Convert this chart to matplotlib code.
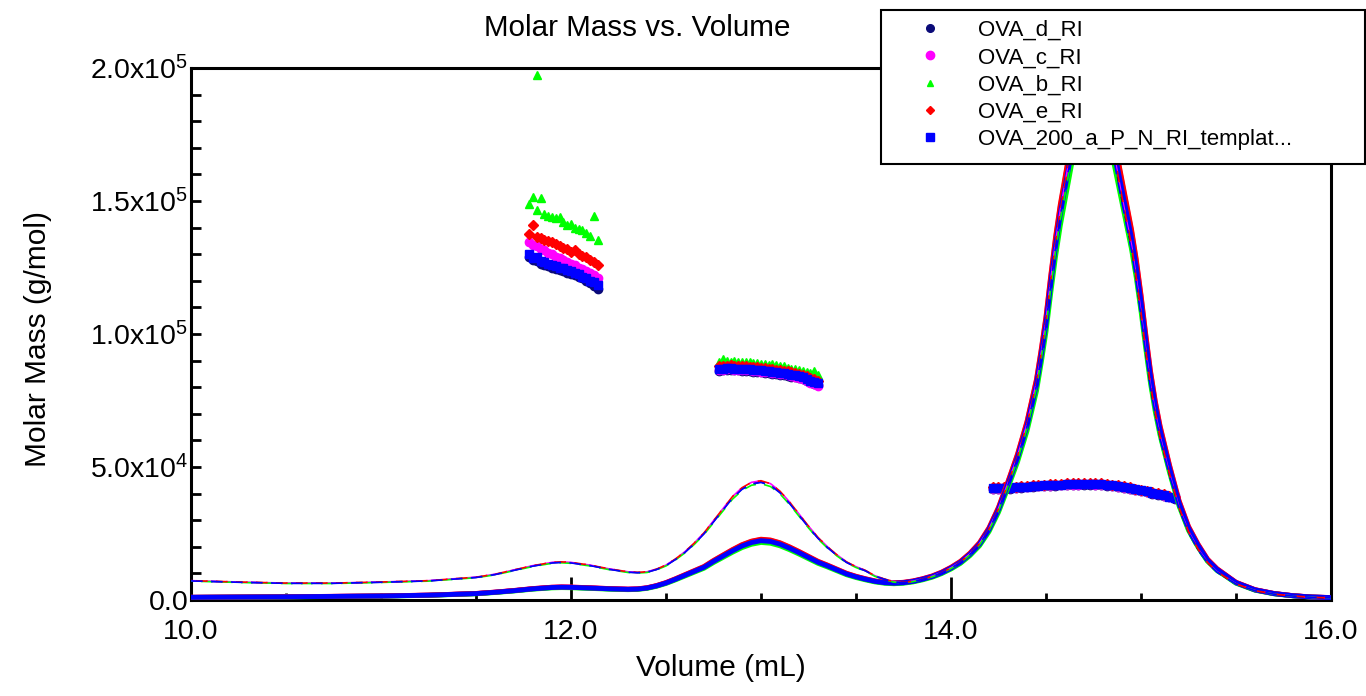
import matplotlib
matplotlib.use('Agg')
import matplotlib.pyplot as plt
from matplotlib.lines import Line2D
from matplotlib.patches import Rectangle
from matplotlib.ticker import MultipleLocator, FixedLocator, FixedFormatter

plt.rcParams['font.family'] = ['Liberation Sans', 'DejaVu Sans']
plt.rcParams['mathtext.fontset'] = 'custom'
plt.rcParams['mathtext.rm'] = 'Liberation Sans'
plt.rcParams['mathtext.it'] = 'Liberation Sans:italic'
plt.rcParams['mathtext.bf'] = 'Liberation Sans:bold'

# ---------------- data ----------------
series_names = ['OVA_d_RI', 'OVA_c_RI', 'OVA_b_RI', 'OVA_e_RI', 'OVA_200_a_P_N_RI_templat...']
series_colors = ['#0A0A78', '#FF00FF', '#00FF00', '#FF0000', '#0000FF']
series_markers = ['o', 'o', '^', 'D', 's']

# molar mass points, region 1 (dimer-like peak)
vol_r1 = [11.78, 11.80, 11.82, 11.84, 11.86, 11.88, 11.90, 11.92, 11.94, 11.96,
          11.98, 12.00, 12.02, 12.04, 12.06, 12.08, 12.10, 12.12, 12.14]
mm_d_r1 = [129000, 128000, 127500, 126500, 126000, 125500, 125000, 124500, 124000, 123500,
           123000, 122500, 122000, 121500, 121000, 120000, 119000, 118000, 117000]
mm_c_r1 = [134500, 133500, 133000, 132000, 131500, 130500, 130000, 129000, 128500, 128000,
           127000, 126500, 126000, 125000, 124500, 123500, 123000, 122000, 121000]
mm_b_r1 = [149000, 151500, 146500, 151000, 145000, 144500, 144000, 143500, 143800, 142000,
           141000, 141500, 140000, 139500, 139000, 138000, 137000, 144400, 135500]
mm_e_r1 = [137500, 141000, 136500, 136000, 135500, 135000, 134500, 134000, 133000, 132500,
           132000, 131000, 131500, 130000, 129500, 129000, 128000, 127000, 126000]
mm_a_r1 = [130000, 128500, 129000, 127500, 127000, 126500, 126000, 125500, 125000, 124800,
           124000, 123800, 123000, 122500, 121500, 121000, 120000, 119500, 118500]
b_outlier_vol = [11.82]
b_outlier_mm = [197400]

# region 2
vol_r2 = [12.78, 12.80, 12.82, 12.84, 12.86, 12.88, 12.90, 12.92, 12.94, 12.96,
          12.98, 13.00, 13.02, 13.04, 13.06, 13.08, 13.10, 13.12, 13.14, 13.16,
          13.18, 13.20, 13.22, 13.24, 13.26, 13.28, 13.30]
mm_a_r2 = [86800, 87000, 87100, 87100, 87000, 87000, 86900, 86800, 86700, 86600,
           86500, 86300, 86200, 86000, 85800, 85600, 85400, 85200, 85000, 84700,
           84400, 84100, 83700, 83200, 82500, 82000, 81500]
mm_d_r2 = [86100, 86300, 86400, 86400, 86300, 86300, 86200, 86100, 86000, 85900,
           85800, 85600, 85500, 85300, 85100, 84900, 84700, 84500, 84300, 84000,
           83700, 83400, 83000, 82500, 81800, 81300, 80800]
mm_c_r2 = [86400, 86600, 86700, 86700, 86600, 86600, 86500, 86400, 86300, 86200,
           86100, 85900, 85800, 85600, 85400, 85200, 85000, 84800, 84500, 84200,
           83800, 83400, 83000, 82400, 81700, 81100, 80600]
mm_e_r2 = [87800, 88000, 88100, 88200, 88000, 88000, 87900, 87900, 87700, 87600,
           87500, 87300, 87200, 87000, 86800, 86600, 86400, 86200, 86000, 85700,
           85400, 85100, 84700, 84200, 83500, 83000, 82500]
mm_b_r2 = [89500, 90500, 89800, 89600, 89700, 89400, 89500, 89300, 89400, 89000,
           89100, 88800, 88700, 88500, 88600, 88200, 88000, 87800, 87300, 87000,
           86700, 86500, 86000, 85600, 85400, 86200, 84500]

# region 3 (monomer)
vol_r3 = [14.22, 14.25, 14.28, 14.31, 14.34, 14.37, 14.40, 14.43, 14.46, 14.49,
          14.52, 14.55, 14.58, 14.61, 14.64, 14.67, 14.70, 14.73, 14.76, 14.79,
          14.82, 14.85, 14.88, 14.91, 14.94, 14.97, 15.00, 15.03, 15.06, 15.09,
          15.12, 15.15, 15.18]
mm_a_r3 = [42000, 42000, 42100, 42200, 42300, 42500, 42600, 42900, 43000, 43100,
           43200, 43300, 43400, 43500, 43600, 43600, 43700, 43700, 43600, 43500,
           43300, 43100, 42800, 42400, 42000, 41600, 41200, 40800, 40300, 39900,
           39400, 38900, 38400]
mm_d_r3 = [41700, 41700, 41800, 41900, 42000, 42200, 42300, 42600, 42700, 42800,
           42900, 43000, 43100, 43200, 43300, 43300, 43400, 43400, 43300, 43200,
           43000, 42800, 42500, 42100, 41700, 41300, 40900, 40500, 40000, 39600,
           39100, 38600, 38100]
mm_c_r3 = [41800, 41800, 41900, 42000, 42100, 42300, 42400, 42700, 42800, 42900,
           43000, 43100, 43200, 43300, 43400, 43400, 43500, 43500, 43400, 43300,
           43100, 42900, 42600, 42200, 41800, 41400, 41000, 40600, 40100, 39700,
           39200, 38700, 38200]
mm_b_r3 = [42200, 42200, 42300, 42400, 42500, 42700, 42800, 43100, 43200, 43300,
           43400, 43500, 43600, 43700, 43800, 43800, 43900, 43900, 43800, 43700,
           43500, 43300, 43000, 42600, 42200, 41800, 41400, 41000, 40500, 40100,
           39600, 39100, 38600]
mm_e_r3 = [42300, 42300, 42400, 42500, 42600, 42800, 42900, 43200, 43300, 43400,
           43500, 43600, 43700, 43900, 44000, 44000, 44100, 44100, 44000, 43900,
           43600, 43400, 43100, 42700, 42300, 41900, 41500, 41100, 40600, 40200,
           39700, 39200, 38700]

mm_r1 = [mm_d_r1, mm_c_r1, mm_b_r1, mm_e_r1, mm_a_r1]
mm_r2 = [mm_d_r2, mm_c_r2, mm_b_r2, mm_e_r2, mm_a_r2]
mm_r3 = [mm_d_r3, mm_c_r3, mm_b_r3, mm_e_r3, mm_a_r3]

# detector traces (shown on the molar mass scale)
trace_vol = [10.0, 10.25, 10.5, 10.75, 11.0, 11.25, 11.5, 11.6, 11.7, 11.8,
             11.9, 11.95, 12.0, 12.1, 12.2, 12.3, 12.35, 12.4, 12.45, 12.5,
             12.55, 12.6, 12.65, 12.7, 12.75, 12.8, 12.85, 12.9, 12.95, 13.0,
             13.05, 13.1, 13.15, 13.2, 13.25, 13.3, 13.35, 13.4, 13.45, 13.5,
             13.55, 13.6, 13.65, 13.7, 13.75, 13.8, 13.85, 13.9, 13.95, 14.0,
             14.05, 14.1, 14.15, 14.2, 14.25, 14.3, 14.35, 14.4, 14.45, 14.475,
             14.5, 14.525, 14.55, 14.575, 14.6, 14.65, 14.7, 14.75, 14.8, 14.85,
             14.9, 14.95, 14.975, 15.0, 15.025, 15.05, 15.075, 15.1, 15.15, 15.2,
             15.25, 15.3, 15.35, 15.4, 15.5, 15.6, 15.7, 15.8, 15.9, 16.0]
ri_trace = [1000, 1100, 1200, 1350, 1500, 1800, 2400, 2900, 3500, 4200,
            4700, 4800, 4750, 4500, 4200, 4000, 4100, 4500, 5300, 6400,
            7800, 9300, 10800, 12300, 14500, 16500, 18500, 20300, 21600, 22300,
            22000, 21000, 19500, 17800, 16000, 14200, 12800, 11300, 9800, 8700,
            7800, 7000, 6500, 6300, 6500, 7000, 7800, 8800, 10200, 12000,
            14200, 17200, 21000, 26500, 34000, 43500, 53500, 65500, 81000, 92000,
            104000, 119000, 133000, 145000, 155000, 175000, 190000, 196000, 190000, 172000,
            154000, 136000, 125000, 112000, 97500, 84000, 73000, 64000, 49500, 36500,
            27000, 20500, 15000, 11500, 6500, 3800, 2400, 1600, 1100, 900]
ls_trace = [7200, 6700, 6300, 6300, 6700, 7200, 8500, 9600, 11200, 12800,
            14000, 14200, 14000, 13000, 11600, 10500, 10300, 10500, 11500, 13000,
            15300, 18000, 21300, 25000, 29500, 34000, 38500, 41800, 43800, 44400,
            43300, 40500, 36500, 32000, 27500, 23300, 19800, 16800, 14200, 12400,
            11000, 9000, 7800, 6800, 6600, 7000, 7800, 8800, 10200, 12000,
            14200, 17200, 21000, 26500, 34000, 43500, 53500, 65500, 81000, 92000,
            104000, 119000, 133000, 145000, 155000, 175000, 190000, 196000, 188000, 169000,
            150000, 132000, 120000, 107000, 93000, 80000, 70000, 61000, 47000, 34500,
            25500, 19000, 14000, 10500, 6000, 3500, 2200, 1500, 1000, 800]
# relative trace heights of each run (d, c, b, e, a)
ri_rel = [1.0, 1.02, 0.97, 1.025, 1.0]
ls_rel = [1.0, 1.01, 0.985, 1.01, 0.995]

x_ticks = [10.0, 12.0, 14.0, 16.0]
x_tick_labels = ['10.0', '12.0', '14.0', '16.0']
y_ticks = [0, 50000, 100000, 150000, 200000]
y_tick_labels = ['0.0', r'$\mathregular{5.0x10^{4}}$', r'$\mathregular{1.0x10^{5}}$',
                 r'$\mathregular{1.5x10^{5}}$', r'$\mathregular{2.0x10^{5}}$']

# ---------------- figure ----------------
W, H = 1366, 696
fig = plt.figure(figsize=(W / 100, H / 100), dpi=100)
ax = fig.add_axes([191 / W, 1 - 600 / H, (1331 - 191) / W, (600 - 68) / H])

msizes = [6.0, 6.0, 6.0, 5.2, 6.4]
for i in range(5):
    for vx, vy in ((vol_r1, mm_r1[i]), (vol_r2, mm_r2[i]), (vol_r3, mm_r3[i])):
        ax.plot(vx, vy, linestyle='none', marker=series_markers[i], ms=msizes[i],
                color=series_colors[i], mec=series_colors[i], zorder=2)
    if i == 2:
        ax.plot(b_outlier_vol, b_outlier_mm, linestyle='none', marker='^', ms=msizes[i],
                color=series_colors[i], zorder=2)

for i in range(5):
    ax.plot(trace_vol, [v * ri_rel[i] for v in ri_trace], color=series_colors[i],
            lw=3.5, solid_capstyle='round', solid_joinstyle='round', zorder=3)
for i in range(5):
    ax.plot(trace_vol, [v * ls_rel[i] for v in ls_trace], color=series_colors[i],
            lw=1.2, linestyle=(i * 3, (7, 5)), zorder=3.5)

ax.set_xlim(10, 16)
ax.set_ylim(0, 200000)
ax.xaxis.set_major_locator(FixedLocator(x_ticks))
ax.xaxis.set_major_formatter(FixedFormatter(x_tick_labels))
ax.xaxis.set_minor_locator(MultipleLocator(0.5))
ax.yaxis.set_major_locator(FixedLocator(y_ticks))
ax.yaxis.set_major_formatter(FixedFormatter(y_tick_labels))
ax.yaxis.set_minor_locator(MultipleLocator(10000))
ax.tick_params(which='both', direction='in', top=False, right=False, color='black')
ax.tick_params(axis='x', which='major', length=16.5, width=2, pad=14, labelsize=20.5)
ax.tick_params(axis='x', which='minor', length=5, width=2)
ax.tick_params(axis='y', which='major', length=7, width=2, pad=2, labelsize=20.5)
ax.tick_params(axis='y', which='minor', length=7, width=2)
for s in ax.spines.values():
    s.set_linewidth(2.2)

fig.text(637 / W, 1 - 28 / H, 'Molar Mass vs. Volume', ha='center', va='center', fontsize=21.3)
fig.text(721 / W, 1 - 668 / H, 'Volume (mL)', ha='center', va='center', fontsize=21.5)
fig.text(38 / W, 1 - 339 / H, 'Molar Mass (g/mol)', ha='center', va='center',
         rotation=90, fontsize=21.5)

# legend box
rect = Rectangle((881 / W, 1 - 164 / H), (1365 - 881) / W, (164 - 10) / H,
                 transform=fig.transFigure, facecolor='white', edgecolor='black',
                 lw=1.5, zorder=4)
fig.add_artist(rect)
leg_ms = [5.5, 6.0, 4.5, 4.5, 5.5]
handles = [Line2D([], [], linestyle='none', marker=series_markers[i], ms=leg_ms[i],
                  color=series_colors[i]) for i in range(5)]
leg = fig.legend(handles, series_names, loc='upper left',
                 bbox_to_anchor=(919 / W, 1 - 20 / H), bbox_transform=fig.transFigure,
                 frameon=False, fontsize=16, handlelength=1.0, handletextpad=1.67,
                 borderpad=0, borderaxespad=0, labelspacing=0.28)
leg.set_zorder(5)

fig.savefig('out.png', dpi=100)
